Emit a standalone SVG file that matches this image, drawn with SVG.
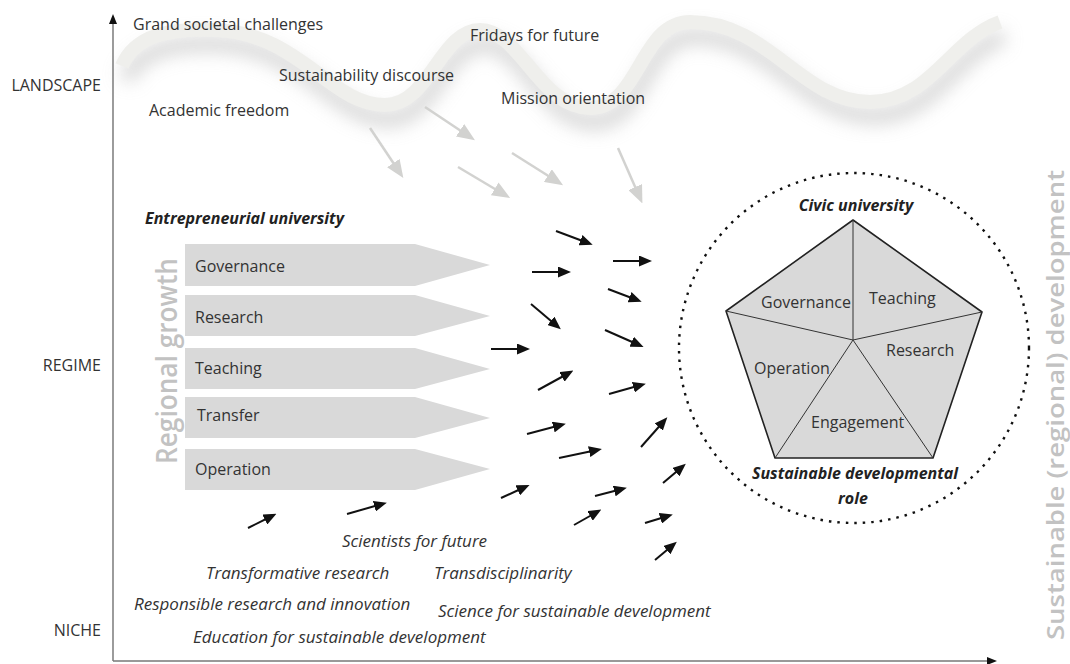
<svg xmlns="http://www.w3.org/2000/svg" width="1070" height="664" viewBox="0 0 1070 664">
<style>
.t{font-family:"Open Sans","Noto Sans",sans-serif;font-size:16px;fill:#333}
.i{font-style:italic;font-size:17px}
.bi{font-style:italic;font-weight:bold;fill:#222}
.lvl{font-family:"Open Sans","Noto Sans",sans-serif;font-size:16px;fill:#333;text-anchor:end}
.chev{fill:#d9d9d9}
.blk{stroke:#111;stroke-width:2;fill:none;marker-end:url(#ah)}
.gry{stroke:#d2d2d0;stroke-width:2.5;fill:none;marker-end:url(#gh)}
.big{font-family:"Open Sans","Noto Sans",sans-serif;font-weight:600;fill:#c2c2c2}
</style>
<defs>
<marker id="ah" markerUnits="userSpaceOnUse" markerWidth="13" markerHeight="11" refX="8" refY="5.5" orient="auto">
<path d="M0,0 L13,5.5 L0,11 z" fill="#111"/>
</marker>
<marker id="gh" markerUnits="userSpaceOnUse" markerWidth="18" markerHeight="15" refX="12" refY="7.5" orient="auto">
<path d="M0,0 L18,7.5 L0,15 z" fill="#d2d2d0"/>
</marker>
<marker id="axh" markerUnits="userSpaceOnUse" markerWidth="10" markerHeight="8" refX="6" refY="4" orient="auto">
<path d="M0,0 L10,4 L0,8 z" fill="#111"/>
</marker>
<filter id="blur" x="-10%" y="-80%" width="120%" height="260%">
<feGaussianBlur stdDeviation="9"/>
</filter>
</defs>

<g id="landscape-wave">
<path d="M122,66 C135,35 170,28 215,30 C300,33 330,105 385,105 C430,105 440,30 480,30 C520,30 540,108 590,108 C640,108 640,22 690,22 C770,22 800,102 870,102 C930,102 950,40 1000,22" fill="none" stroke="#bdbdbd" stroke-width="16" filter="url(#blur)" transform="translate(4,14)" opacity="0.6"/>
<path d="M122,66 C135,35 170,28 215,30 C300,33 330,105 385,105 C430,105 440,30 480,30 C520,30 540,108 590,108 C640,108 640,22 690,22 C770,22 800,102 870,102 C930,102 950,40 1000,22" fill="none" stroke="#efefec" stroke-width="14"/>
</g>

<g id="axes">
<line x1="113" y1="661" x2="113" y2="18" stroke="#666" stroke-width="1.3" marker-end="url(#axh)"/>
<line x1="113" y1="661" x2="993" y2="661" stroke="#777" stroke-width="1.3" marker-end="url(#axh)"/>
<text class="lvl" x="101" y="91">LANDSCAPE</text>
<text class="lvl" x="101" y="371">REGIME</text>
<text class="lvl" x="101" y="636">NICHE</text>
<text class="big" font-size="28" text-anchor="middle" transform="translate(177,361) rotate(-90)" textLength="206" lengthAdjust="spacingAndGlyphs">Regional growth</text>
<text class="big" font-size="24" text-anchor="middle" transform="translate(1064,405) rotate(-90)" textLength="470" lengthAdjust="spacingAndGlyphs">Sustainable (regional) development</text>
</g>

<g id="landscape-labels">
<text class="t" x="133" y="30">Grand societal challenges</text>
<text class="t" x="470" y="41">Fridays for future</text>
<text class="t" x="279" y="81">Sustainability discourse</text>
<text class="t" x="501" y="104">Mission orientation</text>
<text class="t" x="149" y="116">Academic freedom</text>
</g>

<g id="entrepreneurial-university">
<text class="t bi" x="145" y="224">Entrepreneurial university</text>
<g id="chev-governance"><polygon class="chev" points="185,244 415,244 490,265 415,286 185,286"/><text class="t" x="195" y="272">Governance</text></g>
<g id="chev-research"><polygon class="chev" points="185,295 415,295 490,316 415,336 185,336"/><text class="t" x="195" y="323">Research</text></g>
<g id="chev-teaching"><polygon class="chev" points="185,348 415,348 490,369 415,389 185,389"/><text class="t" x="195" y="374">Teaching</text></g>
<g id="chev-transfer"><polygon class="chev" points="185,397 415,397 490,418 415,438 185,438"/><text class="t" x="197" y="421">Transfer</text></g>
<g id="chev-operation"><polygon class="chev" points="185,449 415,449 490,469 415,490 185,490"/><text class="t" x="195" y="475">Operation</text></g>
</g>

<g id="civic-university">
<circle cx="854" cy="348" r="175" fill="none" stroke="#111" stroke-width="2.4" stroke-dasharray="2.5 6"/>
<polygon points="853,220 982,312 933,458 775,458 726,311" fill="#d9d9d9" stroke="#222" stroke-width="1.6" stroke-linejoin="round"/>
<g stroke="#333" stroke-width="1">
<line x1="853" y1="340" x2="853" y2="220"/>
<line x1="853" y1="340" x2="982" y2="312"/>
<line x1="853" y1="340" x2="933" y2="458"/>
<line x1="853" y1="340" x2="775" y2="458"/>
<line x1="853" y1="340" x2="726" y2="311"/>
</g>
<text class="t" x="761" y="308">Governance</text>
<text class="t" x="869" y="304">Teaching</text>
<text class="t" x="886" y="356">Research</text>
<text class="t" x="754" y="374">Operation</text>
<text class="t" x="811" y="428">Engagement</text>
<text class="t bi" x="856" y="211" text-anchor="middle">Civic university</text>
<text class="t bi" x="855" y="479" text-anchor="middle" font-size="15.5">Sustainable developmental</text>
<text class="t bi" x="853" y="504" text-anchor="middle" font-size="15.5">role</text>
</g>

<g id="niche-labels">
<text class="t i" x="342" y="547">Scientists for future</text>
<text class="t i" x="206" y="579">Transformative research</text>
<text class="t i" x="434" y="579">Transdisciplinarity</text>
<text class="t i" x="134" y="610">Responsible research and innovation</text>
<text class="t i" x="438" y="617">Science for sustainable development</text>
<text class="t i" x="193" y="643">Education for sustainable development</text>
</g>

<g id="connectors">
<line class="gry" x1="370" y1="128" x2="400" y2="173"/>
<line class="gry" x1="425" y1="107" x2="470" y2="137"/>
<line class="gry" x1="458" y1="167" x2="505" y2="195"/>
<line class="gry" x1="512" y1="153" x2="558" y2="182"/>
<line class="gry" x1="618" y1="148" x2="640" y2="198"/>

<line class="blk" x1="556" y1="231" x2="588" y2="243"/>
<line class="blk" x1="532" y1="272" x2="566" y2="272"/>
<line class="blk" x1="613" y1="261" x2="647" y2="261"/>
<line class="blk" x1="608" y1="289" x2="637" y2="300"/>
<line class="blk" x1="531" y1="304" x2="557" y2="326"/>
<line class="blk" x1="605" y1="330" x2="639" y2="345"/>
<line class="blk" x1="491" y1="349" x2="525" y2="349"/>
<line class="blk" x1="538" y1="390" x2="569" y2="373"/>
<line class="blk" x1="609" y1="394" x2="641" y2="385"/>
<line class="blk" x1="527" y1="434" x2="561" y2="425"/>
<line class="blk" x1="641" y1="447" x2="664" y2="421"/>
<line class="blk" x1="559" y1="458" x2="597" y2="450"/>
<line class="blk" x1="501" y1="498" x2="525" y2="487"/>
<line class="blk" x1="663" y1="483" x2="682" y2="467"/>
<line class="blk" x1="595" y1="496" x2="622" y2="489"/>
<line class="blk" x1="574" y1="525" x2="597" y2="512"/>
<line class="blk" x1="645" y1="523" x2="668" y2="516"/>
<line class="blk" x1="655" y1="560" x2="673" y2="545"/>
<line class="blk" x1="248" y1="528" x2="272" y2="516"/>
<line class="blk" x1="347" y1="514" x2="382" y2="504"/>
</g>
</svg>
